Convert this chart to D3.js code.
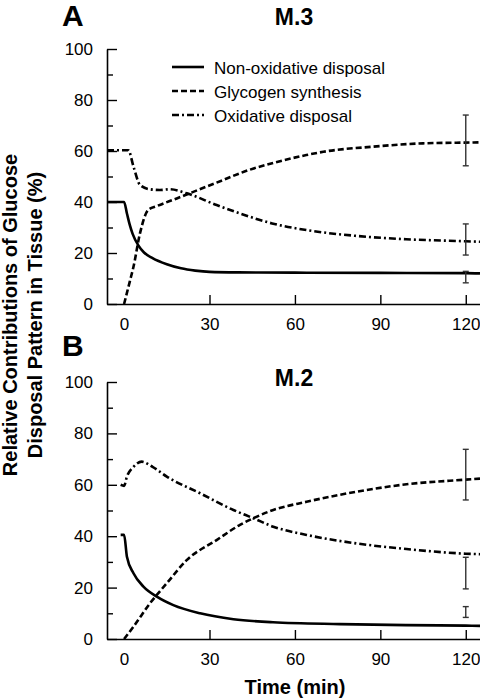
<!DOCTYPE html>
<html>
<head>
<meta charset="utf-8">
<script src="https://cdn.jsdelivr.net/npm/d3@7"></script>
<style>
  body { margin: 0; background: #fff; }
  svg { display: block; font-family: "Liberation Sans", Arial, sans-serif; }
</style>
</head>
<body>
<svg id="chart" width="480" height="698"></svg>
<script>
// ---------- DATA ----------
const seriesNames = ["Non-oxidative disposal", "Glycogen synthesis", "Oxidative disposal"];
const xTickValues = [0, 30, 60, 90, 120];
const yMajorTicks = [0, 20, 40, 60, 80, 100];
const yMinorTicks = [10, 30, 50, 70, 90];
const panelTitles = ["M.3", "M.2"];
const panelLetters = ["A", "B"];

// Panel A (M.3)
const nonA_t = [-6, 0, 1, 2, 3, 5, 7, 10, 15, 20, 25, 30, 40, 60, 90, 120, 125];
const nonA_v = [40, 40, 35.5, 31, 27.5, 23, 20.2, 18, 15.6, 14, 13.1, 12.6, 12.4, 12.3, 12.2, 12.1, 12];
const glyA_t = [0, 2, 3.3, 5.6, 8.5, 11.5, 18.5, 23, 32.5, 44, 52, 64, 70, 87.5, 105, 120, 125];
const glyA_v = [0, 8.8, 14.6, 27.8, 36.9, 38.4, 41.4, 43.4, 47.6, 52.6, 55.2, 58.4, 59.7, 61.7, 63, 63.3, 63.4];
const oxA_t = [-6, 1.5, 3.3, 5.6, 9, 12.6, 16, 22, 32.5, 41, 52, 64, 81.6, 99, 120, 125];
const oxA_v = [60.3, 60.3, 53.9, 46.7, 45, 44.7, 45, 43.4, 38.8, 35.4, 31.6, 29, 26.7, 25.4, 24.6, 24.4];
const errA_t = 120;
const errA_low = [8.3, 54.2, 19.2];
const errA_high = [12.8, 74.1, 31.4];

// Panel B (M.2)
const nonB_t = [-1.2, 0, 1, 3.3, 6.8, 11.5, 17.3, 26.7, 38.4, 52.3, 75.8, 99, 120, 125];
const nonB_v = [40.5, 40.5, 32, 25.6, 20.4, 16.5, 13.2, 10, 7.7, 6.5, 5.8, 5.4, 5.2, 5.1];
const glyB_t = [0, 3.3, 9.1, 15, 22, 32.5, 40.7, 45.4, 52.4, 64.1, 81.6, 99.2, 120, 125];
const glyB_v = [0, 4.8, 13.9, 21.7, 30.7, 38.5, 44.4, 47, 50.2, 53.4, 57.3, 60.2, 62, 62.4];
const oxB_t = [-1.2, 0, 1, 3.3, 6.2, 10, 15, 26.7, 38.4, 45.4, 52.4, 64.1, 81.6, 99.2, 120, 125];
const oxB_v = [60, 59.6, 63.2, 67, 69, 67, 63.2, 56.7, 50.2, 47, 43.7, 40.5, 37.2, 35, 33.2, 33];
const errB_t = 120;
const errB_low = [8.4, 54.1, 19.5];
const errB_high = [12.6, 73.8, 31.8];

// ---------- DRAW ----------
const svg = d3.select("#chart");
const dashes = [null, "6,3", "7,3,2,3"];

const x = d3.scaleLinear().domain([-6, 125]).range([107, 480]);

const panels = [
  { top: 49, bottom: 304, series: [[nonA_t, nonA_v], [glyA_t, glyA_v], [oxA_t, oxA_v]],
    errT: errA_t, errLow: errA_low, errHigh: errA_high, titleY: 25, letterY: 26 },
  { top: 382, bottom: 639, series: [[nonB_t, nonB_v], [glyB_t, glyB_v], [oxB_t, oxB_v]],
    errT: errB_t, errLow: errB_low, errHigh: errB_high, titleY: 386, letterY: 356 }
];

panels.forEach((p, pi) => {
  const y = d3.scaleLinear().domain([0, 100]).range([p.bottom, p.top]);
  const g = svg.append("g");

  // lines
  const line = d3.line().x(d => x(d[0])).y(d => y(d[1])).curve(d3.curveMonotoneX);
  p.series.forEach((s, si) => {
    const pts = s[0].map((t, i) => [t, s[1][i]]);
    g.append("path")
      .attr("d", line(pts))
      .attr("fill", "none")
      .attr("stroke", "#000")
      .attr("stroke-width", 2.6)
      .attr("stroke-dasharray", dashes[si]);
  });

  // error bars
  p.errLow.forEach((lo, i) => {
    const hi = p.errHigh[i];
    const cx = x(p.errT);
    const eg = g.append("g").attr("stroke", "#333").attr("stroke-width", 1.4);
    eg.append("line").attr("x1", cx).attr("x2", cx).attr("y1", y(lo)).attr("y2", y(hi));
    eg.append("line").attr("x1", cx - 3).attr("x2", cx + 3).attr("y1", y(lo)).attr("y2", y(lo));
    eg.append("line").attr("x1", cx - 3).attr("x2", cx + 3).attr("y1", y(hi)).attr("y2", y(hi));
  });

  // y axis
  const yAx = g.append("g").attr("transform", `translate(107,0)`)
    .call(d3.axisLeft(y).tickValues(yMajorTicks).tickSize(-10).tickSizeOuter(0).tickPadding(14));
  yAx.selectAll("text").attr("font-size", 17).attr("fill", "#000")
    .attr("font-family", "Liberation Sans, Arial, sans-serif");
  yAx.selectAll("line").attr("stroke", "#000").attr("stroke-width", 1.4);
  yAx.select(".domain").attr("stroke", "#000").attr("stroke-width", 1.6);

  const yMin = g.append("g").attr("transform", `translate(107,0)`)
    .call(d3.axisLeft(y).tickValues(yMinorTicks).tickSize(-6).tickSizeOuter(0).tickFormat(""));
  yMin.select(".domain").remove();
  yMin.selectAll("line").attr("stroke", "#000").attr("stroke-width", 1.4);

  // x axis
  const xAx = g.append("g").attr("transform", `translate(0,${p.bottom})`)
    .call(d3.axisBottom(x).tickValues(xTickValues).tickSize(-9).tickSizeOuter(0).tickPadding(14));
  xAx.selectAll("text").attr("font-size", 17).attr("fill", "#000")
    .attr("font-family", "Liberation Sans, Arial, sans-serif");
  xAx.selectAll("line").attr("stroke", "#000").attr("stroke-width", 1.4);
  xAx.select(".domain").attr("stroke", "#000").attr("stroke-width", 1.6);
  xAx.selectAll(".tick").filter(d => d === 0).select("line").remove();

  // title and letter
  svg.append("text").attr("x", 294).attr("y", p.titleY).attr("text-anchor", "middle")
    .attr("font-size", 23).attr("font-weight", "bold").text(panelTitles[pi]);
  svg.append("text").attr("x", 62).attr("y", p.letterY)
    .attr("font-size", 30).attr("font-weight", "bold").text(panelLetters[pi]);
});

// legend (panel A)
const legend = svg.append("g");
seriesNames.forEach((name, i) => {
  const ly = 67 + i * 24;
  legend.append("line").attr("x1", 172).attr("x2", 204).attr("y1", ly).attr("y2", ly)
    .attr("stroke", "#000").attr("stroke-width", 2.6).attr("stroke-dasharray", dashes[i]);
  legend.append("text").attr("x", 214).attr("y", ly + 6.5).attr("font-size", 17).text(name);
});

// axis titles
svg.append("text").attr("x", 295).attr("y", 694).attr("text-anchor", "middle")
  .attr("font-size", 20).attr("font-weight", "bold").text("Time (min)");

const yt = svg.append("text").attr("transform", "translate(0,315) rotate(-90)")
  .attr("text-anchor", "middle").attr("font-size", 20).attr("font-weight", "bold");
yt.append("tspan").attr("x", 0).attr("y", 16.5).text("Relative Contributions of Glucose");
yt.append("tspan").attr("x", 0).attr("y", 41.5).text("Disposal Pattern in Tissue (%)");
</script>
</body>
</html>
